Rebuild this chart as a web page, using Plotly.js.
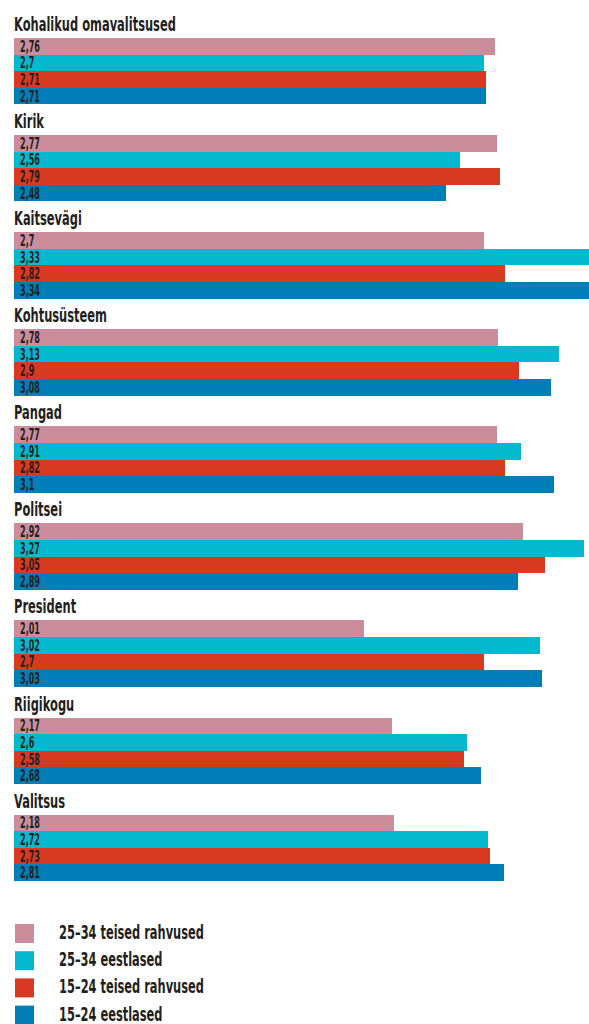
<!DOCTYPE html>
<html>
<head>
<meta charset="utf-8">
<script src="https://cdn.plot.ly/plotly-3.0.1.min.js"></script>
<style>html,body{margin:0;padding:0;background:#fff;}#chart{width:589px;height:1024px;}</style>
</head>
<body>
<div id="chart"></div>
<script>
const categories = ['Kohalikud omavalitsused','Kirik','Kaitsevägi','Kohtusüsteem','Pangad','Politsei','President','Riigikogu','Valitsus'];
const seriesNames = ['25–34 teised rahvused','25–34 eestlased','15–24 teised rahvused','15–24 eestlased'];
const seriesColors = ['#CB8D9C','#04B9CF','#D83A21','#017DB7'];
const others2534 = [2.76,2.77,2.7,2.78,2.77,2.92,2.01,2.17,2.18];
const estonians2534 = [2.7,2.56,3.33,3.13,2.91,3.27,3.02,2.6,2.72];
const others1524 = [2.71,2.79,2.82,2.9,2.82,3.05,2.7,2.58,2.73];
const estonians1524 = [2.71,2.48,3.34,3.08,3.1,2.89,3.03,2.68,2.81];
const seriesValues = [others2534, estonians2534, others1524, estonians1524];

const FONT = 'DejaVu Sans Condensed, DejaVu Sans, sans-serif';
const TXT = '#231F20';
const P = 5.85; // group period in bar units
const W = 589, H = 1024;
const M = {l:14, r:0, t:38, b:143};
const plotH = H - M.t - M.b, plotW = W - M.l - M.r;
const fmt = v => String(v).replace('.', ',');

const traces = seriesValues.map((vals, i) => ({
  type:'bar', orientation:'h',
  x: vals,
  y: categories.map((c, g) => g*P + i),
  width: 1,
  name: seriesNames[i],
  marker:{color: seriesColors[i], line:{width:0}},
  hoverinfo:'skip', showlegend:false
}));

const annotations = [];
categories.forEach((c, g) => {
  annotations.push({
    xref:'x', yref:'y', x:0, y:g*P - 0.5, xanchor:'left', yanchor:'bottom',
    yshift:0, xshift:-2, showarrow:false, text:c,
    font:{family:FONT, size:20, color:TXT, weight:'bold'}
  });
});
seriesValues.forEach((vals, i) => {
  vals.forEach((v, g) => {
    annotations.push({
      xref:'x', yref:'y', x:0, y:g*P + i, xanchor:'left', yanchor:'middle',
      xshift:4, yshift:-0.5, showarrow:false, text:fmt(v),
      font:{family:FONT, size:15, color:TXT, weight:'bold'}
    });
  });
});

const shapes = [];
const py2paper = py => (H - M.b - py) / plotH;
const px2paper = px => (px - M.l) / plotW;
seriesNames.forEach((n, i) => {
  const top = 924 + i*27.2;
  shapes.push({type:'rect', xref:'paper', yref:'paper', x0:px2paper(15), x1:px2paper(34),
    y0:py2paper(top), y1:py2paper(top+19), fillcolor:seriesColors[i], line:{width:0}, layer:'above'});
  annotations.push({xref:'paper', yref:'paper', x:px2paper(58), y:py2paper(top+9.5),
    xanchor:'left', yanchor:'middle', yshift:1.5, borderpad:0, showarrow:false, text:n,
    font:{family:FONT, size:20, color:TXT, weight:'bold'}});
});

const layout = {
  width:W, height:H, margin:M,
  paper_bgcolor:'#fff', plot_bgcolor:'#fff',
  barmode:'overlay', bargap:0,
  xaxis:{range:[0,3.3], visible:false, fixedrange:true},
  yaxis:{range:[8*P+3.5, -0.5], visible:false, fixedrange:true},
  showlegend:false, annotations, shapes
};

Plotly.newPlot('chart', traces, layout, {displayModeBar:false, staticPlot:true}).then(gd => {
  const els = Array.from(gd.querySelectorAll('.annotation-text'));
  const find = t => els.find(e => e.textContent === t);
  const targets = [
    {ref: categories[0], width: 162, set: new Set(categories)},
    {ref: seriesNames[0], width: 145, set: new Set(seriesNames)},
    {ref: fmt(others2534[0]), width: 20, set: null}
  ];
  const scales = targets.map(t => {
    const e = find(t.ref);
    const w = e ? e.getComputedTextLength() : 0;
    return w > 0 ? t.width / w : 0.7;
  });
  els.forEach(e => {
    const t = e.textContent;
    let s = scales[2];
    if (targets[0].set.has(t)) s = scales[0];
    else if (targets[1].set.has(t)) s = scales[1];
    e.style.transformBox = 'fill-box';
    e.style.transformOrigin = '0 50%';
    e.style.transform = 'scaleX(' + s.toFixed(3) + ')';
  });
});
</script>
</body>
</html>
